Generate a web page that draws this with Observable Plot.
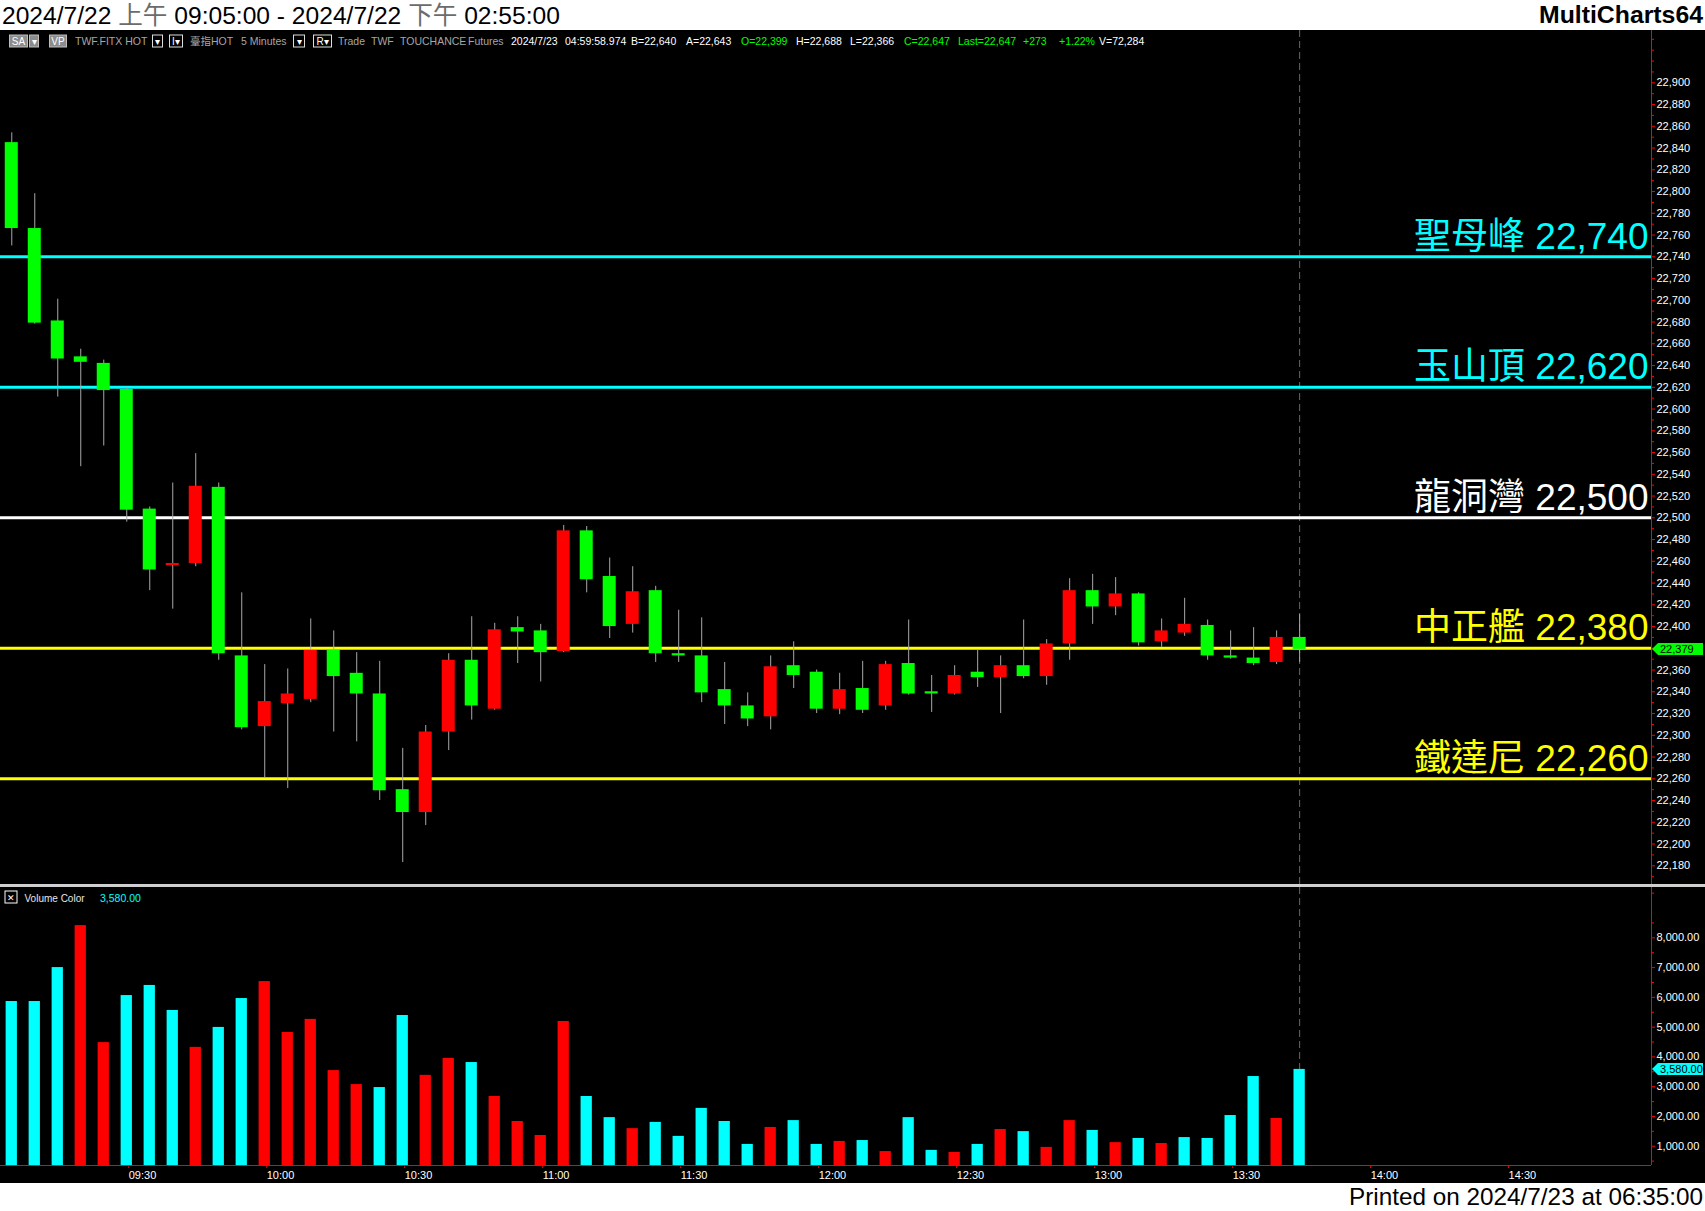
<!DOCTYPE html>
<html>
<head>
<meta charset="utf-8">
<script src="https://cdn.jsdelivr.net/npm/d3@7"></script>
<script src="https://cdn.jsdelivr.net/npm/@observablehq/plot@0.6"></script>
<style>
  html, body { margin:0; padding:0; background:#fff; overflow:hidden; }
  #page { position:relative; width:1705px; height:1211px; background:#fff; overflow:hidden;
          font-family:"Liberation Sans", Arial, "Noto Sans CJK TC", sans-serif; }
  #black { position:absolute; left:0; top:30px; width:1705px; height:1153px; background:#000; }
  #sep { position:absolute; left:0; top:884px; width:1705px; height:3px; background:#cfcfcf; }
  #price { position:absolute; left:0; top:30px; }
  #volume { position:absolute; left:0; top:887px; }
  #overlay { position:absolute; left:0; top:0; pointer-events:none; }
</style>
</head>
<body>
<div id="page">
  <div id="black"></div>
  <div id="price"></div>
  <div id="sep"></div>
  <div id="volume"></div>
  <svg id="overlay" width="1705" height="1211"></svg>
</div>
<script>
// ---------------- DATA ----------------
const startTime = "09:05";       // first bar
const barMinutes = 5;
const open  = [22845,22766,22681,22648,22642,22618,22508,22456,22458,22528,
               22373,22308,22329,22333,22378,22357,22338,22250,22229,22303,
               22369,22324,22399,22396,22377,22488,22446,22402,22433,22375,
               22373,22342,22327,22317,22364,22358,22324,22343,22327,22366,
               22340,22338,22358,22353,22364,22354,22384,22433,22418,22430,
               22386,22394,22401,22373,22371,22367,22390];
const high  = [22854,22798,22701,22655,22645,22620,22510,22532,22559,22532,
               22431,22365,22361,22407,22396,22376,22368,22288,22309,22375,
               22409,22403,22409,22402,22493,22492,22463,22455,22437,22415,
               22408,22367,22339,22373,22386,22360,22357,22368,22368,22406,
               22355,22364,22378,22373,22406,22388,22444,22448,22445,22431,
               22407,22426,22406,22396,22399,22396,22411];
const low   = [22750,22678,22611,22547,22566,22496,22433,22416,22455,22369,
               22305,22261,22251,22330,22303,22294,22240,22183,22217,22286,
               22314,22323,22366,22349,22376,22431,22389,22394,22367,22367,
               22330,22310,22308,22305,22343,22320,22319,22320,22323,22337,
               22321,22337,22344,22320,22352,22346,22369,22402,22410,22382,
               22381,22391,22369,22370,22364,22365,22367];
const close = [22766,22679,22646,22643,22617,22507,22452,22458,22529,22375,
               22307,22331,22338,22378,22354,22338,22249,22229,22303,22369,
               22327,22397,22395,22376,22488,22443,22400,22432,22375,22373,
               22339,22327,22315,22363,22355,22324,22342,22323,22365,22338,
               22338,22355,22353,22364,22354,22384,22433,22418,22430,22385,
               22396,22402,22373,22371,22366,22390,22379];
const volume = [5860,5860,7000,8410,4480,6060,6400,5560,4320,4990,
                5960,6530,4820,5260,3540,3070,2970,5390,3380,3950,
                3810,2670,1830,1360,5190,2670,1960,1590,1800,1330,
                2270,1830,1060,1630,1860,1060,1160,1190,820,1960,
                860,790,1060,1560,1490,960,1860,1530,1120,1260,
                1090,1290,1260,2030,3340,1930,3580];
// 1 = red volume bar, 0 = cyan volume bar
const volumeUp = [0,0,0,1,1,0,0,0,1,0, 0,1,1,1,1,1,0,0,1,1,
                  0,1,1,1,1,0,0,1,0,0, 0,0,0,1,0,0,1,0,1,0,
                  0,1,0,1,0,1,1,0,1,0, 1,0,0,0,0,1,0];
const levelNames  = ["聖母峰","玉山頂","龍洞灣","中正艦","鐵達尼"];
const levelValues = [22740, 22620, 22500, 22380, 22260];
const levelColors = ["#00ffff","#00ffff","#ffffff","#ffff00","#ffff00"];
const timeTickLabels = ["09:30","10:00","10:30","11:00","11:30","12:00","12:30","13:00","13:30","14:00","14:30"];
const lastPrice = 22379;
const lastVolume = 3580;
// price labels every 20 (the 22,380 label is hidden behind the last-price marker)
const priceTicks = d3.range(22180, 22901, 20).filter(v => v !== 22380);
const volumeTicks = [1000,2000,3000,4000,5000,6000,7000,8000];

// ---------------- HELPERS ----------------
const FONT = '"Liberation Sans", Arial, "Noto Sans CJK TC", sans-serif';
const RED = "#ff0000", GREEN = "#00ff00", CYAN = "#00ffff";
const toMin = s => { const [h, m] = s.split(":").map(Number); return h * 60 + m; };
const t0 = toMin(startTime);
const idxOf = s => (toMin(s) - t0) / barMinutes;
const fmt = d3.format(",");
const candles = open.map((o, i) => ({i, open: o, high: high[i], low: low[i], close: close[i]}));
const vols = volume.map((v, i) => ({i, v, up: volumeUp[i]}));
const levels = levelValues.map((v, k) => ({name: levelNames[k], value: v, color: levelColors[k]}));
const lastIdx = candles.length - 1;
const xDomain = [-0.49, 71.3];
const priceMinor = d3.range(22170, 22945, 10).filter(v => !priceTicks.includes(v));
const volMinor = d3.range(500, 9600, 1000);
const timeTickIdx = timeTickLabels.map(idxOf);

function marker(value, label, fill) {
  return (index, scales, values, dims) => {
    const y = scales.y(value);
    const x0 = dims.width - dims.marginRight + 1;
    const g = d3.create("svg:g");
    g.append("path")
      .attr("d", `M${x0},${y}L${x0 + 6},${y - 6}H${x0 + 51}V${y + 6}H${x0 + 6}Z`)
      .attr("fill", fill);
    g.append("text").attr("x", x0 + 8).attr("y", y).attr("dy", "0.36em")
      .attr("text-anchor", "start")
      .attr("fill", "#000").attr("font-size", 11).attr("font-family", FONT).text(label);
    return g.node();
  };
}

// ---------------- PRICE PANEL ----------------
const price = Plot.plot({
  width: 1705, height: 854,
  marginLeft: 0, marginRight: 54, marginTop: 0, marginBottom: 0,
  style: {background: "transparent", color: "#fff", fontFamily: FONT, fontSize: "11px", overflow: "visible"},
  x: {domain: xDomain, axis: null, label: null},
  y: {domain: [22162.8, 22948.1], label: null},
  marks: [
    Plot.ruleX([lastIdx], {stroke: "#666", strokeDasharray: "7,4"}),
    Plot.ruleY(levels, {y: "value", stroke: d => d.color, strokeWidth: 3}),
    Plot.ruleX(candles, {x: "i", y1: "low", y2: "high", stroke: "#a8a8a8", strokeWidth: 1}),
    Plot.rect(candles, {
      x1: d => d.i - 0.283, x2: d => d.i + 0.283,
      y1: "open", y2: "close",
      fill: d => d.close > d.open ? RED : GREEN
    }),
    Plot.text(levels, {
      y: "value", text: d => `${d.name} ${fmt(d.value)}`,
      frameAnchor: "right", textAnchor: "end", lineAnchor: "bottom",
      dx: -3, dy: -8, fontSize: 37, fill: d => d.color
    }),
    Plot.ruleX([xDomain[1]], {stroke: RED}),
    Plot.axisY({anchor: "right", ticks: priceTicks, tickFormat: fmt, tickSize: 3, tickPadding: 2,
                stroke: RED, fill: "#fff", fontSize: 11, label: null}),
    Plot.axisY({anchor: "right", ticks: priceMinor, tickSize: 2, fill: "none", stroke: RED, label: null}),
    marker(lastPrice, fmt(lastPrice), GREEN)
  ]
});
document.getElementById("price").appendChild(price);

// ---------------- VOLUME PANEL ----------------
const volDomain = [352, 9690];
const vol = Plot.plot({
  width: 1705, height: 296,
  marginLeft: 0, marginRight: 54, marginTop: 0, marginBottom: 18,
  style: {background: "transparent", color: "#fff", fontFamily: FONT, fontSize: "11px", overflow: "visible"},
  x: {domain: xDomain, label: null},
  y: {domain: volDomain, label: null},
  marks: [
    Plot.ruleX([lastIdx], {stroke: "#666", strokeDasharray: "7,4"}),
    Plot.rect(vols, {
      x1: d => d.i - 0.245, x2: d => d.i + 0.245, y1: 0, y2: "v",
      fill: d => d.up ? RED : CYAN, clip: true
    }),
    Plot.ruleY([volDomain[0]], {stroke: RED}),
    Plot.ruleX([xDomain[1]], {stroke: RED}),
    Plot.axisY({anchor: "right", ticks: volumeTicks, tickFormat: d3.format(",.2f"), tickSize: 3, tickPadding: 2,
                stroke: RED, fill: "#fff", fontSize: 11, label: null}),
    Plot.axisY({anchor: "right", ticks: volMinor, tickSize: 2, fill: "none", stroke: RED, label: null}),
    Plot.axisX({anchor: "bottom", ticks: timeTickIdx,
                tickFormat: i => timeTickLabels[timeTickIdx.indexOf(i)],
                tickSize: 3, tickPadding: 3, stroke: RED, fill: "#fff", fontSize: 11,
                textAnchor: "start", dx: 2, label: null}),
    marker(lastVolume, d3.format(",.2f")(lastVolume), CYAN)
  ]
});
document.getElementById("volume").appendChild(vol);

// ---------------- TEXT OVERLAY ----------------
const ov = d3.select("#overlay").attr("font-family", FONT);
function txt(x, y, s, o = {}) {
  return ov.append("text").attr("x", x).attr("y", y).text(s)
    .attr("font-size", o.size || 10).attr("fill", o.fill || "#fff")
    .attr("text-anchor", o.anchor || "start").attr("font-weight", o.weight || "normal");
}
// header
const title = ov.append("text").attr("x", 2).attr("y", 23.5).attr("font-size", 24.6).attr("fill", "#000");
title.append("tspan").text("2024/7/22 ");
title.append("tspan").text("上午").attr("fill", "#6b6b6b");
title.append("tspan").text(" 09:05:00 - 2024/7/22 ");
title.append("tspan").text("下午").attr("fill", "#6b6b6b");
title.append("tspan").text(" 02:55:00");
txt(1703, 23, "MultiCharts64", {size: 24.8, fill: "#000", anchor: "end", weight: "bold"});
txt(1703, 1205, "Printed on 2024/7/23 at 06:35:00", {size: 24.3, fill: "#000", anchor: "end"});

// info bar
function box(x, w, label, bg, border) {
  ov.append("rect").attr("x", x).attr("y", 35).attr("width", w).attr("height", 12)
    .attr("fill", bg).attr("stroke", border).attr("stroke-width", 1);
  if (label) txt(x + w / 2, 45, label, {size: 10, fill: "#fff", anchor: "middle"});
}
box(9.5, 18, "SA", "#8c8c8c", "#bdbdbd");
box(29.5, 9, "▾", "#8c8c8c", "#bdbdbd");
box(49.5, 17, "VP", "#8c8c8c", "#bdbdbd");
box(152.5, 10, "▾", "#000", "#ddd");
box(169.5, 13, "I▾", "#000", "#ddd");
box(293.5, 11, "▾", "#000", "#ddd");
box(313.5, 18, "R▾", "#000", "#ddd");
const GRAY = "#a6a6a6", WHITE = "#ffffff";
const info = [
  [75, "TWF.FITX HOT", GRAY], [190, "臺指HOT", GRAY], [241, "5 Minutes", GRAY],
  [338, "Trade", GRAY], [371, "TWF", GRAY], [400, "TOUCHANCE", GRAY], [468, "Futures", GRAY],
  [511, "2024/7/23", WHITE], [565, "04:59:58.974", WHITE], [631, "B=22,640", WHITE],
  [686, "A=22,643", WHITE], [741, "O=22,399", GREEN], [796, "H=22,688", WHITE],
  [850, "L=22,366", WHITE], [904, "C=22,647", GREEN], [958, "Last=22,647", GREEN],
  [1023, "+273", GREEN], [1059, "+1.22%", GREEN], [1099, "V=72,284", WHITE]
];
info.forEach(([x, s, c]) => txt(x, 45, s, {size: 10.5, fill: c}));

// volume panel legend
ov.append("rect").attr("x", 5).attr("y", 891).attr("width", 12).attr("height", 12)
  .attr("fill", "none").attr("stroke", "#fff");
txt(11, 901, "✕", {size: 9, fill: "#fff", anchor: "middle"});
txt(24.5, 901.5, "Volume Color", {size: 10, fill: "#e6e6e6"});
txt(100, 901.5, d3.format(",.2f")(lastVolume), {size: 10.5, fill: CYAN});
</script>
</body>
</html>
